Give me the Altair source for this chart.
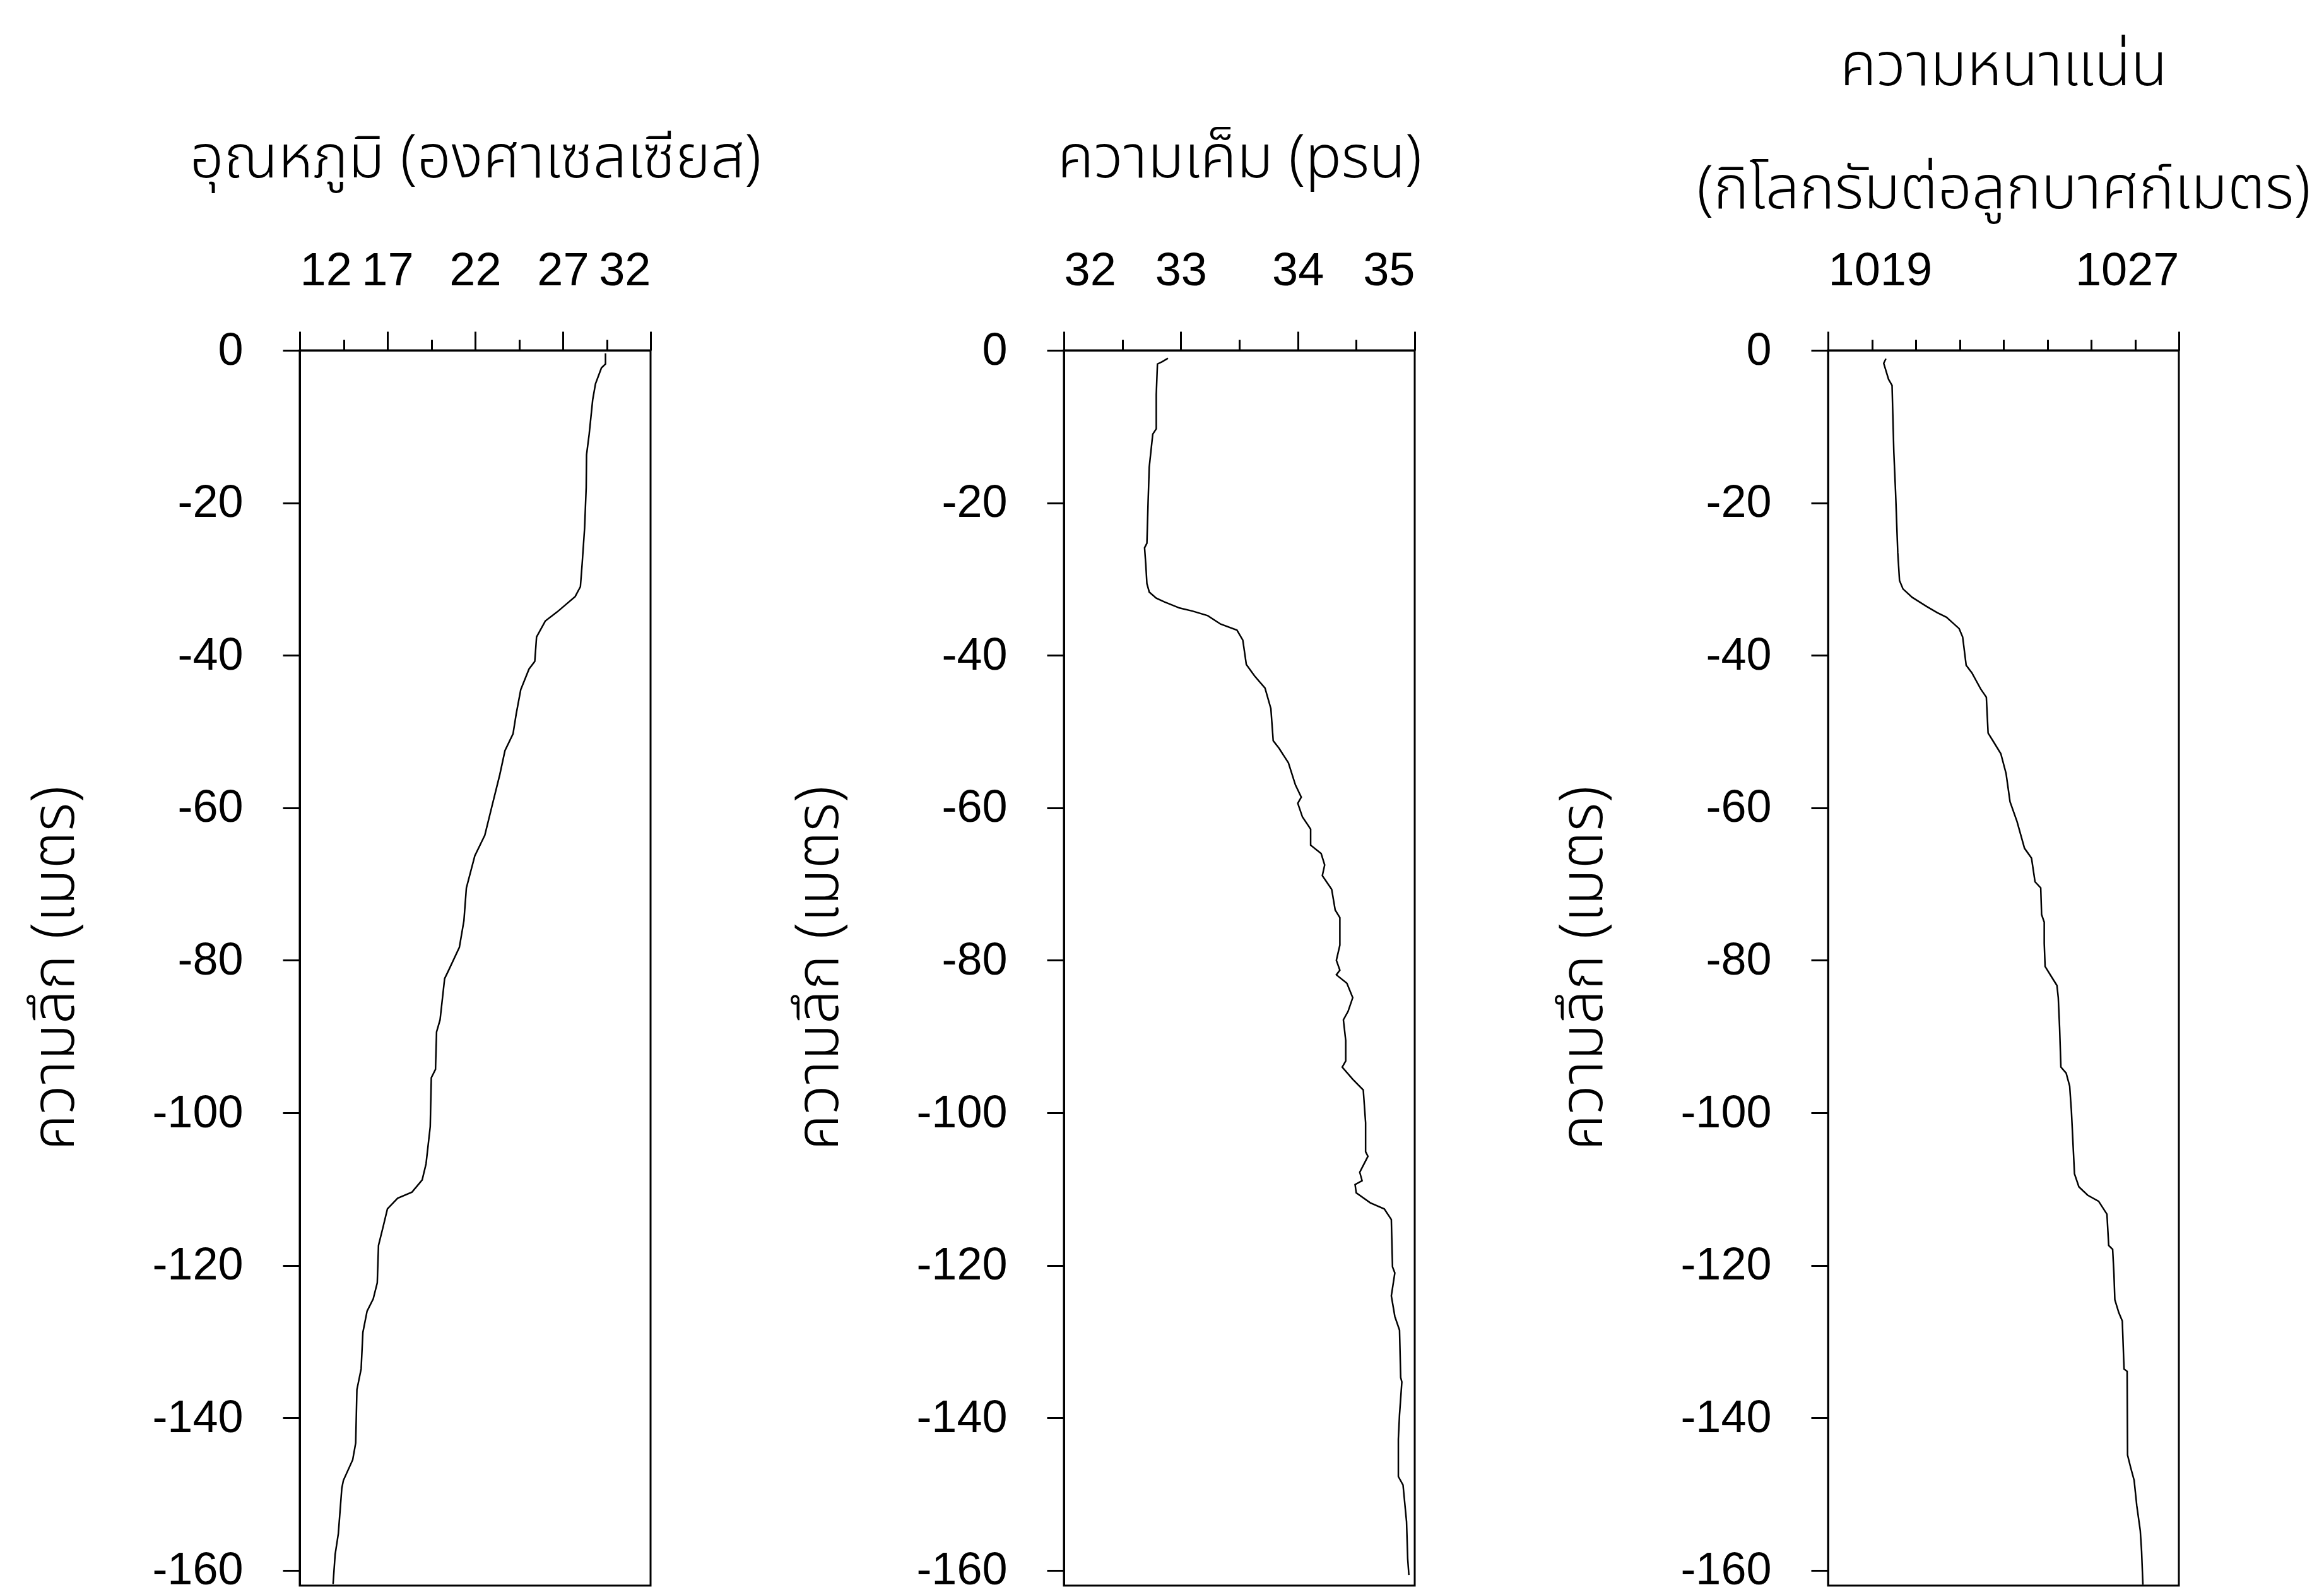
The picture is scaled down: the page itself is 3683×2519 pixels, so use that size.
import altair as alt
import pandas as pd

# ---------------- data ----------------
# Temperature profile (degrees C) vs depth (m, negative downward)
temp_depth = [-0.4, -1.8, -2.3, -4.4, -6.5, -11.0, -13.7, -18.0, -23.3, -28.0, -31.0, -32.3,
              -34.3, -35.5, -37.6, -40.8, -41.8, -44.5, -47.7, -50.3, -52.5, -55.7, -59.4,
              -63.6, -66.3, -70.5, -74.8, -78.3, -81.3, -82.4, -87.8, -89.4, -94.3, -95.4,
              -101.8, -106.7, -108.8, -110.4, -111.2, -112.6, -114.8, -117.4, -122.3, -124.4,
              -126.0, -128.8, -133.6, -136.3, -143.3, -145.5, -148.2, -149.2, -155.2, -157.9,
              -161.8]
temp_value = [29.43, 29.43, 29.2, 28.86, 28.7, 28.5, 28.35, 28.33, 28.24, 28.1, 28.0, 27.7,
              26.68, 26.0, 25.5, 25.4, 25.07, 24.6, 24.34, 24.16, 23.7, 23.4, 23.0,
              22.55, 21.98, 21.5, 21.36, 21.1, 20.49, 20.26, 20.0, 19.8, 19.74, 19.5,
              19.44, 19.2, 18.98, 18.4, 17.58, 17.0, 16.77, 16.49, 16.42, 16.19,
              15.84, 15.6, 15.5, 15.26, 15.19, 15.02, 14.49, 14.4, 14.2, 14.02,
              13.9]

# Salinity profile (psu)
sal_depth = [-1.05, -1.5, -1.8, -5.8, -10.3, -11.0, -15.3, -20.0, -25.3, -25.9, -28.0, -30.6,
             -31.7, -32.5, -33.0, -33.8, -34.2, -34.8, -35.9, -36.7, -38.0, -41.2, -42.7,
             -44.3, -47.0, -51.2, -52.2, -54.1, -57.0, -58.6, -59.4, -61.2, -62.8, -64.9,
             -66.0, -67.5, -68.9, -70.7, -73.4, -74.4, -78.0, -80.0, -81.3, -81.9, -83.0,
             -84.9, -86.7, -87.8, -90.5, -93.2, -94.0, -95.6, -97.0, -101.3, -105.1, -105.7,
             -107.8, -108.9, -109.4, -110.5, -111.8, -112.6, -114.0, -120.2, -121.0, -124.0,
             -126.7, -128.5, -134.7, -135.3, -139.6, -142.8, -147.7, -148.8, -153.6, -158.5,
             -160.6]
sal_value = [32.89, 32.84, 32.80, 32.79, 32.79, 32.76, 32.73, 32.72, 32.71, 32.69, 32.70, 32.71,
             32.73, 32.79, 32.86, 32.99, 33.10, 33.23, 33.34, 33.48, 33.53, 33.56, 33.63,
             33.72, 33.77, 33.79, 33.84, 33.92, 33.98, 34.03, 34.00, 34.04, 34.11, 34.11,
             34.20, 34.23, 34.21, 34.29, 34.32, 34.36, 34.36, 34.33, 34.36, 34.33, 34.42,
             34.47, 34.43, 34.39, 34.41, 34.41, 34.38, 34.47, 34.56, 34.58, 34.58, 34.60,
             34.53, 34.55, 34.49, 34.50, 34.62, 34.74, 34.80, 34.81, 34.83, 34.80,
             34.83, 34.87, 34.88, 34.89, 34.87, 34.86, 34.86, 34.90, 34.93, 34.94,
             34.95]

# Density profile (kg/m^3)
dens_depth = [-1.1, -1.7, -3.8, -4.6, -13.3, -18.6, -26.5, -30.2, -31.3, -32.4, -33.6, -34.4,
              -35.0, -36.5, -37.6, -41.3, -42.3, -44.4, -45.5, -50.2, -51.3, -52.9, -55.5,
              -59.2, -61.8, -65.3, -66.6, -69.7, -70.5, -74.0, -75.0, -77.8, -80.8, -82.2,
              -83.3, -84.9, -88.8, -94.0, -94.8, -96.5, -99.8, -108.0, -109.7, -110.8, -111.6,
              -113.3, -117.4, -117.9, -121.2, -124.5, -126.2, -127.3, -133.6, -133.9, -144.9,
              -146.5, -148.2, -151.5, -154.8, -157.5, -161.9]
dens_value = [1020.32, 1020.27, 1020.38, 1020.46, 1020.50, 1020.54, 1020.59, 1020.63, 1020.71,
              1020.92, 1021.25, 1021.49, 1021.70, 1021.99, 1022.07, 1022.15, 1022.28, 1022.48,
              1022.61, 1022.65, 1022.77, 1022.94, 1023.06, 1023.15, 1023.31, 1023.48, 1023.64,
              1023.72, 1023.85, 1023.87, 1023.93, 1023.93, 1023.95, 1024.10, 1024.22, 1024.25,
              1024.28, 1024.31, 1024.43, 1024.51, 1024.55, 1024.62, 1024.72, 1024.92, 1025.17,
              1025.36, 1025.40, 1025.49, 1025.52, 1025.54, 1025.63, 1025.71, 1025.75, 1025.82,
              1025.83, 1025.90, 1025.98, 1026.04, 1026.12, 1026.15, 1026.18]

# axis ticks / labels
temp_ticks = [12, 14.5, 17, 19.5, 22, 24.5, 27, 29.5, 32]
temp_major = [12, 17, 22, 27, 32]
sal_ticks = [32, 32.5, 33, 33.5, 34, 34.5, 35]
sal_major = [32, 33, 34, 35]
dens_ticks = [1019, 1020, 1021, 1022, 1023, 1024, 1025, 1026, 1027]
dens_major = [1019, 1027]
depth_ticks = [0, -20, -40, -60, -80, -100, -120, -140, -160]

temp_title = "อุณหภูมิ (องศาเซลเซียส)"
sal_title = "ความเค็ม (psu)"
dens_title = ["ความหนาแน่น", "(กิโลกรัมต่อลูกบาศก์เมตร)"]
depth_title = "ความลึก (เมตร)"

THAI = "Noto Sans Thai, Noto Sans Thai Looped, Loma, Garuda, Noto Sans, DejaVu Sans, sans-serif"
NUM = "Liberation Sans, Arial, sans-serif"

W, H = 556, 1957


def panel(depth, value, domain, ticks, major, title, title_pad):
    df = pd.DataFrame({"depth": depth, "value": value, "idx": list(range(len(depth)))})
    test = " || ".join(f"abs(datum.value - ({m})) < 1e-6" for m in major)
    x = alt.X(
        "value:Q",
        scale=alt.Scale(domain=domain, nice=False, zero=False),
        axis=alt.Axis(
            orient="top",
            values=ticks,
            labelExpr=f"({test}) ? ('' + datum.value) : ''",
            tickSize={"condition": {"test": test, "value": 30}, "value": 17},
            labelFont=NUM,
            labelFontSize=74,
            labelPadding=58,
            title=title,
            titleFont=THAI,
            titleFontSize=95,
            titleFontWeight=300,
            titlePadding=title_pad,
            titleLineHeight=195,
        ),
    )
    y = alt.Y(
        "depth:Q",
        scale=alt.Scale(domain=[-162, 0], nice=False, zero=False),
        axis=alt.Axis(
            values=depth_ticks,
            labelExpr="'' + datum.value",
            tickSize=27,
            labelFont=NUM,
            labelFontSize=72,
            labelPadding=63,
            title=depth_title,
            titleFont=THAI,
            titleFontSize=95,
            titleFontWeight=300,
            titlePadding=139,
        ),
    )
    return (
        alt.Chart(df)
        .mark_line(color="black", strokeWidth=2.5, clip=True)
        .encode(x=x, y=y, order=alt.Order("idx:Q"))
        .properties(width=W, height=H)
    )


p1 = panel(temp_depth, temp_value, [12, 32], temp_ticks, temp_major, temp_title, 92)
p2 = panel(sal_depth, sal_value, [32, 35], sal_ticks, sal_major, sal_title, 92)
p3 = panel(dens_depth, dens_value, [1019, 1027], dens_ticks, dens_major, dens_title, 43)

chart = (
    alt.hconcat(p1, p2, p3, spacing=655, bounds="flush")
    .properties(padding={"left": 30, "top": 48, "right": 10, "bottom": 0}, background="white")
    .configure_view(stroke="black", strokeWidth=3)
    .configure_axis(
        domainColor="black",
        domainWidth=3,
        tickColor="black",
        tickWidth=3,
        labelColor="black",
        titleColor="black",
        grid=False,
    )
)

chart.save("out.html", embed_options={"renderer": "svg", "actions": False})
